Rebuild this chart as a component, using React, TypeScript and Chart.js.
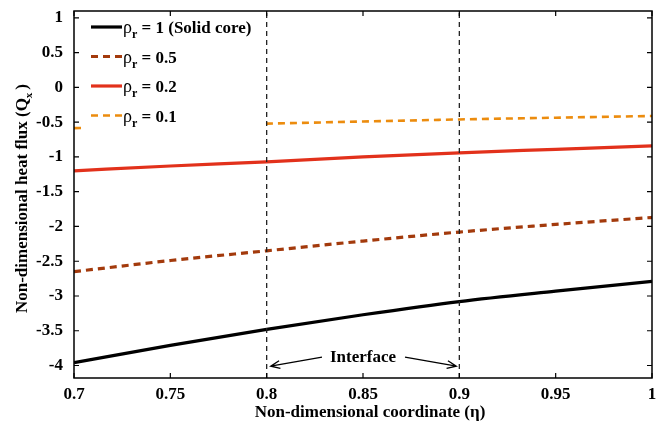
import React, { useEffect, useRef } from "react";
import { Chart, registerables } from "chart.js";

Chart.register(...registerables);

// ---- data ----
const eta = [0.7, 0.75, 0.8, 0.85, 0.9, 0.95, 1.0];
const qSolid = [-3.96, -3.71, -3.48, -3.27, -3.08, -2.93, -2.79];
const q05 = [-2.65, -2.49, -2.35, -2.21, -2.08, -1.97, -1.87];
const q02 = [-1.2, -1.13, -1.07, -1.0, -0.94, -0.89, -0.84];
const q01 = [-0.585, -0.55, -0.52, -0.49, -0.46, -0.435, -0.41];
const interfaceEta = [0.8, 0.9];
const seriesLabels = ["1 (Solid core)", "0.5", "0.2", "0.1"];
const xRange = [0.7, 1.0];
const yRange = [-4.18, 1.1];
const xStep = 0.05;
const yStep = 0.5;
const interfaceLabelY = -3.88;
const interfaceArrowY = -4.01;

const FONT = "'Liberation Serif', 'Times New Roman', serif";
const FS = 17;

const styles = [
  { color: "#000000", width: 3.2, dash: [] as number[] },
  { color: "#A33A0C", width: 3.2, dash: [7, 5] },
  { color: "#E2311B", width: 3.2, dash: [] as number[] },
  { color: "#EC8C0E", width: 2.6, dash: [7, 5] },
];

const toPts = (ys: number[]) => eta.map((x, i) => ({ x, y: ys[i] }));

const overlay = {
  id: "overlay",
  afterDatasetsDraw(chart: any) {
    const { ctx, chartArea: a, scales } = chart;
    const xs = scales.x;
    const ys = scales.y;
    ctx.save();

    // legend box (white, borderless, covers lines)
    const lx = a.left + 8;
    const ly = a.top + 1;
    ctx.fillStyle = "#ffffff";
    ctx.fillRect(lx, ly, 182, 120);
    seriesLabels.forEach((lab, i) => {
      const st = styles[i];
      const cy = ly + 15 + i * 29.5;
      ctx.beginPath();
      ctx.strokeStyle = st.color;
      ctx.lineWidth = st.width;
      ctx.setLineDash(st.dash);
      ctx.moveTo(lx + 9, cy);
      ctx.lineTo(lx + 40, cy);
      ctx.stroke();
      ctx.setLineDash([]);
      ctx.fillStyle = "#000";
      ctx.textBaseline = "alphabetic";
      ctx.textAlign = "left";
      let tx = lx + 41;
      ctx.font = `${FS + 1}px ${FONT}`;
      ctx.fillText("ρ", tx, cy + 6);
      tx += ctx.measureText("ρ").width;
      ctx.font = `bold 12px ${FONT}`;
      ctx.fillText("r", tx, cy + 11);
      tx += ctx.measureText("r").width;
      ctx.font = `bold ${FS}px ${FONT}`;
      ctx.fillText(" = " + lab, tx, cy + 6);
    });

    // Interface annotation
    const x0 = xs.getPixelForValue(interfaceEta[0]);
    const x1 = xs.getPixelForValue(interfaceEta[1]);
    const tY = ys.getPixelForValue(interfaceLabelY);
    const aY = ys.getPixelForValue(interfaceArrowY);
    const mid = (x0 + x1) / 2;
    ctx.font = `bold ${FS}px ${FONT}`;
    ctx.textAlign = "center";
    ctx.textBaseline = "middle";
    ctx.fillStyle = "#000";
    ctx.fillText("Interface", mid, tY);
    const drawArrow = (fx: number, fy: number, tx: number, ty: number) => {
      ctx.beginPath();
      ctx.strokeStyle = "#000";
      ctx.lineWidth = 1.3;
      ctx.moveTo(fx, fy);
      ctx.lineTo(tx, ty);
      const ang = Math.atan2(ty - fy, tx - fx);
      const L = 10;
      const s = 0.4;
      ctx.moveTo(tx - L * Math.cos(ang - s), ty - L * Math.sin(ang - s));
      ctx.lineTo(tx, ty);
      ctx.lineTo(tx - L * Math.cos(ang + s), ty - L * Math.sin(ang + s));
      ctx.stroke();
    };
    drawArrow(mid - 41, tY, x0 + 4, aY);
    drawArrow(mid + 42, tY, x1 - 3, aY);

    // box
    ctx.strokeStyle = "#000";
    ctx.lineWidth = 1.5;
    ctx.strokeRect(a.left, a.top, a.right - a.left, a.bottom - a.top);

    // inward ticks on all sides
    ctx.lineWidth = 1.2;
    const tl = 5;
    ctx.beginPath();
    xs.ticks.forEach((t: any) => {
      const px = xs.getPixelForValue(t.value);
      ctx.moveTo(px, a.bottom);
      ctx.lineTo(px, a.bottom - tl);
      ctx.moveTo(px, a.top);
      ctx.lineTo(px, a.top + tl);
    });
    ys.ticks.forEach((t: any) => {
      const py = ys.getPixelForValue(t.value);
      ctx.moveTo(a.left, py);
      ctx.lineTo(a.left + tl, py);
      ctx.moveTo(a.right, py);
      ctx.lineTo(a.right - tl, py);
    });
    ctx.stroke();

    // axis titles
    ctx.fillStyle = "#000";
    ctx.textBaseline = "middle";
    ctx.textAlign = "center";
    ctx.font = `bold ${FS}px ${FONT}`;
    ctx.fillText("Non-dimensional coordinate (η)", (a.left + a.right) / 2 + 7, 413);

    ctx.save();
    ctx.translate(23, (a.top + a.bottom) / 2 + 4);
    ctx.rotate(-Math.PI / 2);
    const p1 = "Non-dimensional heat flux (Q";
    const p3 = ")";
    ctx.font = `bold ${FS}px ${FONT}`;
    const w1 = ctx.measureText(p1).width;
    const w3 = ctx.measureText(p3).width;
    ctx.font = `bold 11px ${FONT}`;
    const w2 = ctx.measureText("x").width + 3;
    const total = w1 + w2 + w3;
    let sx = -total / 2;
    ctx.textAlign = "left";
    ctx.font = `bold ${FS}px ${FONT}`;
    ctx.fillText(p1, sx, 0);
    sx += w1;
    ctx.font = `bold 11px ${FONT}`;
    ctx.fillText("x", sx, 6);
    sx += w2;
    ctx.font = `bold ${FS}px ${FONT}`;
    ctx.fillText(p3, sx, 0);
    ctx.restore();

    ctx.restore();
  },
};

const fmt = (v: any) => String(Number(Number(v).toFixed(2)));

export default function App() {
  const ref = useRef<HTMLCanvasElement | null>(null);
  useEffect(() => {
    if (!ref.current) return;
    const series = [qSolid, q05, q02, q01];
    const vlines = interfaceEta.map((xv) => ({
      label: "interface " + xv,
      data: [
        { x: xv, y: yRange[0] },
        { x: xv, y: yRange[1] },
      ],
      borderColor: "#222222",
      borderWidth: 1.3,
      borderDash: [5, 4],
      pointRadius: 0,
      fill: false,
    }));
    const lines = series.map((s, i) => ({
      label: "ρr = " + seriesLabels[i],
      data: toPts(s),
      borderColor: styles[i].color,
      borderWidth: styles[i].width,
      borderDash: styles[i].dash,
      pointRadius: 0,
      cubicInterpolationMode: "monotone" as const,
      fill: false,
    }));
    const zeroPad = (s: any) => {
      s.paddingTop = 0;
      s.paddingBottom = 0;
      s.paddingLeft = 0;
      s.paddingRight = 0;
    };
    const chart = new Chart(ref.current, {
      type: "line",
      data: { datasets: [...vlines, ...lines] as any },
      options: {
        animation: false,
        responsive: false,
        maintainAspectRatio: false,
        layout: { padding: { top: 11, right: 9, left: 0, bottom: 0 } },
        plugins: { legend: { display: false }, tooltip: { enabled: false } },
        scales: {
          x: {
            type: "linear",
            min: xRange[0],
            max: xRange[1],
            grid: { display: false, drawTicks: false },
            border: { display: false },
            ticks: {
              stepSize: xStep,
              includeBounds: false,
              padding: 6,
              color: "#000",
              font: { family: FONT, size: FS, weight: "bold" },
              callback: fmt,
              maxRotation: 0,
              autoSkip: false,
            },
            afterFit: (s: any) => {
              s.height = 48;
              zeroPad(s);
            },
          },
          y: {
            type: "linear",
            min: yRange[0],
            max: yRange[1],
            grid: { display: false, drawTicks: false },
            border: { display: false },
            ticks: {
              stepSize: yStep,
              includeBounds: false,
              padding: 11,
              color: "#000",
              font: { family: FONT, size: FS, weight: "bold" },
              callback: fmt,
              autoSkip: false,
            },
            afterFit: (s: any) => {
              s.width = 74;
              zeroPad(s);
            },
          },
        },
      } as any,
      plugins: [overlay],
    });
    return () => chart.destroy();
  }, []);
  return (
    <div style={{ position: "fixed", left: 0, top: 0, width: 661, height: 426, background: "#fff" }}>
      <canvas ref={ref} width={661} height={426} />
    </div>
  );
}
